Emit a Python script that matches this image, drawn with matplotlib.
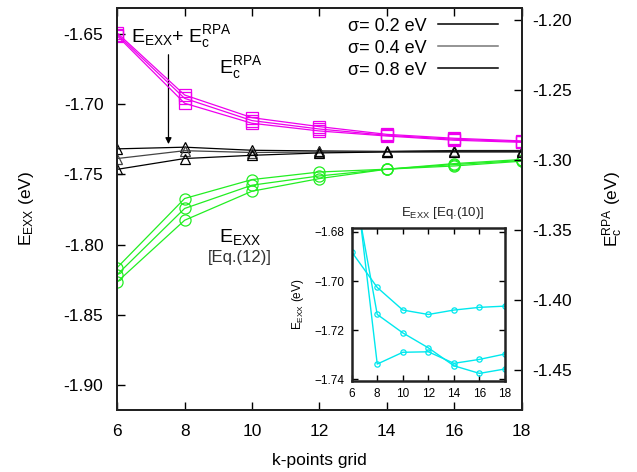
import matplotlib
matplotlib.use('Agg')
import matplotlib.pyplot as plt
from matplotlib.lines import Line2D

plt.rcParams['font.family'] = ['Liberation Sans', 'DejaVu Sans']
plt.rcParams['mathtext.default'] = 'regular'
plt.rcParams['axes.unicode_minus'] = False

# k-points grid
k = [6, 8, 10, 12, 14, 16, 18]
sigmas = ['0.2', '0.4', '0.8']

# E_c^RPA (right axis), one list per sigma
ec_02 = [-1.2093, -1.2536, -1.2698, -1.2762, -1.2817, -1.2845, -1.2864]
ec_04 = [-1.2104, -1.2560, -1.2719, -1.2779, -1.2824, -1.2852, -1.2869]
ec_08 = [-1.2114, -1.2595, -1.2738, -1.2793, -1.2829, -1.2859, -1.2874]

# E_EXX + E_c^RPA (shifted, left axis)
sum_02 = [-1.7318, -1.7306, -1.7328, -1.7333, -1.7336, -1.7330, -1.7330]
sum_04 = [-1.7387, -1.7331, -1.7344, -1.7340, -1.7338, -1.7335, -1.7335]
sum_08 = [-1.7464, -1.7387, -1.7364, -1.7347, -1.7340, -1.7340, -1.7340]

# E_EXX [Eq.(12)]
exx12_02 = [-1.8164, -1.7672, -1.7537, -1.7483, -1.7463, -1.7423, -1.7394]
exx12_04 = [-1.8214, -1.7743, -1.7577, -1.7511, -1.7463, -1.7430, -1.7401]
exx12_08 = [-1.8266, -1.7827, -1.7620, -1.7530, -1.7463, -1.7440, -1.7406]

# E_EXX [Eq.(10)] (inset)
exx10_a = [-1.6881, -1.7026, -1.7118, -1.7136, -1.7118, -1.7107, -1.7102]
exx10_b = [-1.6560, -1.7136, -1.7211, -1.7272, -1.7345, -1.7376, -1.7358]
exx10_c = [-1.6453, -1.7338, -1.7290, -1.7288, -1.7335, -1.7319, -1.7297]

left_ticks = [-1.65, -1.70, -1.75, -1.80, -1.85, -1.90]
right_ticks = [-1.20, -1.25, -1.30, -1.35, -1.40, -1.45]
inset_ticks = [-1.68, -1.70, -1.72, -1.74]

MAGENTA = '#ee00ee'
GREEN = '#22ee22'
CYAN = '#00e8ee'
SPINE = '#222222'
FS = 12.5


def style_axes(ax, width=1.4):
  for s in ax.spines.values():
    s.set_linewidth(width)
    s.set_color(SPINE)


fig = plt.figure(figsize=(6.37, 4.72), dpi=100)
ax = fig.add_axes([0.1841, 0.1314, 0.6346, 0.8527])
ax2 = ax.twinx()

for ys in [exx12_02, exx12_04, exx12_08]:
  ax.plot(k, ys, '-', color=GREEN, lw=0.9, marker='o', ms=8, mfc='none', mew=0.9)
for ys, c in zip([sum_02, sum_04, sum_08], ['black', '#444444', 'black']):
  ax.plot(k, ys, '-', color=c, lw=0.9, marker='^', ms=6.5, mfc='none', mew=0.9)
for ys in [ec_02, ec_04, ec_08]:
  ax2.plot(k, ys, '-', color=MAGENTA, lw=0.9, marker='s', ms=8, mfc='none', mew=0.9)

ax.set_xlim(6, 18)
ax.set_ylim(-1.918, -1.631)
ax2.set_ylim(-1.4786, -1.1911)
ax.set_xticks(k)
ax.set_yticks(left_ticks)
ax.set_yticklabels(['%.2f' % v for v in left_ticks])
ax2.set_yticks(right_ticks)
ax2.set_yticklabels(['%.2f' % v for v in right_ticks])
ax.tick_params(axis='both', direction='in', length=6, width=1, labelsize=FS, top=True, pad=10)
ax.tick_params(axis='x', pad=10)
ax2.tick_params(axis='y', direction='in', length=6, width=1, labelsize=FS, pad=8)
style_axes(ax)
style_axes(ax2)

ax.set_xlabel('k-points grid', fontsize=FS, labelpad=10)
ax.set_ylabel('E$_{EXX}$ (eV)', fontsize=FS, labelpad=20)
ax2.set_ylabel('E$_c^{RPA}$ (eV)', fontsize=FS, labelpad=20)

# annotations
ax.text(7.9, -1.6515, 'E$_{EXX}$+ E$_c^{RPA}$', fontsize=14, ha='center', va='center')
ax.text(9.65, -1.6735, 'E$_c^{RPA}$', fontsize=14, ha='center', va='center')
ax.text(9.65, -1.7946, 'E$_{EXX}$', fontsize=14, ha='center', va='center')
ax.text(9.65, -1.8095, '[Eq.(12)]', fontsize=12, ha='center', va='center', color='#333333')
ax.annotate('', xy=(7.52, -1.7304), xytext=(7.52, -1.6627),
            arrowprops=dict(arrowstyle='-|>', color='black', lw=0.9, mutation_scale=9))

handles = [Line2D([], [], color=c, lw=1.1) for c in ['black', '#777777', 'black']]
ax.legend(handles, ['\u03c3= %s eV' % s for s in sigmas], loc='upper right',
          bbox_to_anchor=(0.942, 0.975), frameon=False, markerfirst=False,
          fontsize=13, handlelength=3.3, handletextpad=0.65, labelspacing=0.28,
          borderpad=0, borderaxespad=0)

# inset
ins = fig.add_axes([0.5521, 0.1928, 0.2407, 0.3235])
for ys in [exx10_a, exx10_b, exx10_c]:
  ins.plot(k, ys, '-', color=CYAN, lw=1.0, marker='o', ms=3.8, mfc='none', mew=0.9)
ins.set_xlim(6, 18)
ins.set_ylim(-1.7407, -1.6785)
ins.set_xticks(k)
ins.set_yticks(inset_ticks)
ins.set_yticklabels(['\u2212%.2f' % -v for v in inset_ticks])
ins.tick_params(axis='both', direction='in', length=4, width=1, labelsize=8.5, top=True, right=True, pad=5)
style_axes(ins, 1.8)
ins.set_ylabel('E$_{EXX}$ (eV)', fontsize=8.5, labelpad=6)
ins.text(0.596, 1.1, 'E$_{EXX}$ [Eq.(10)]', fontsize=9.5, ha='center', va='center',
         color='#222222', transform=ins.transAxes)

fig.savefig('out.png', dpi=100)
